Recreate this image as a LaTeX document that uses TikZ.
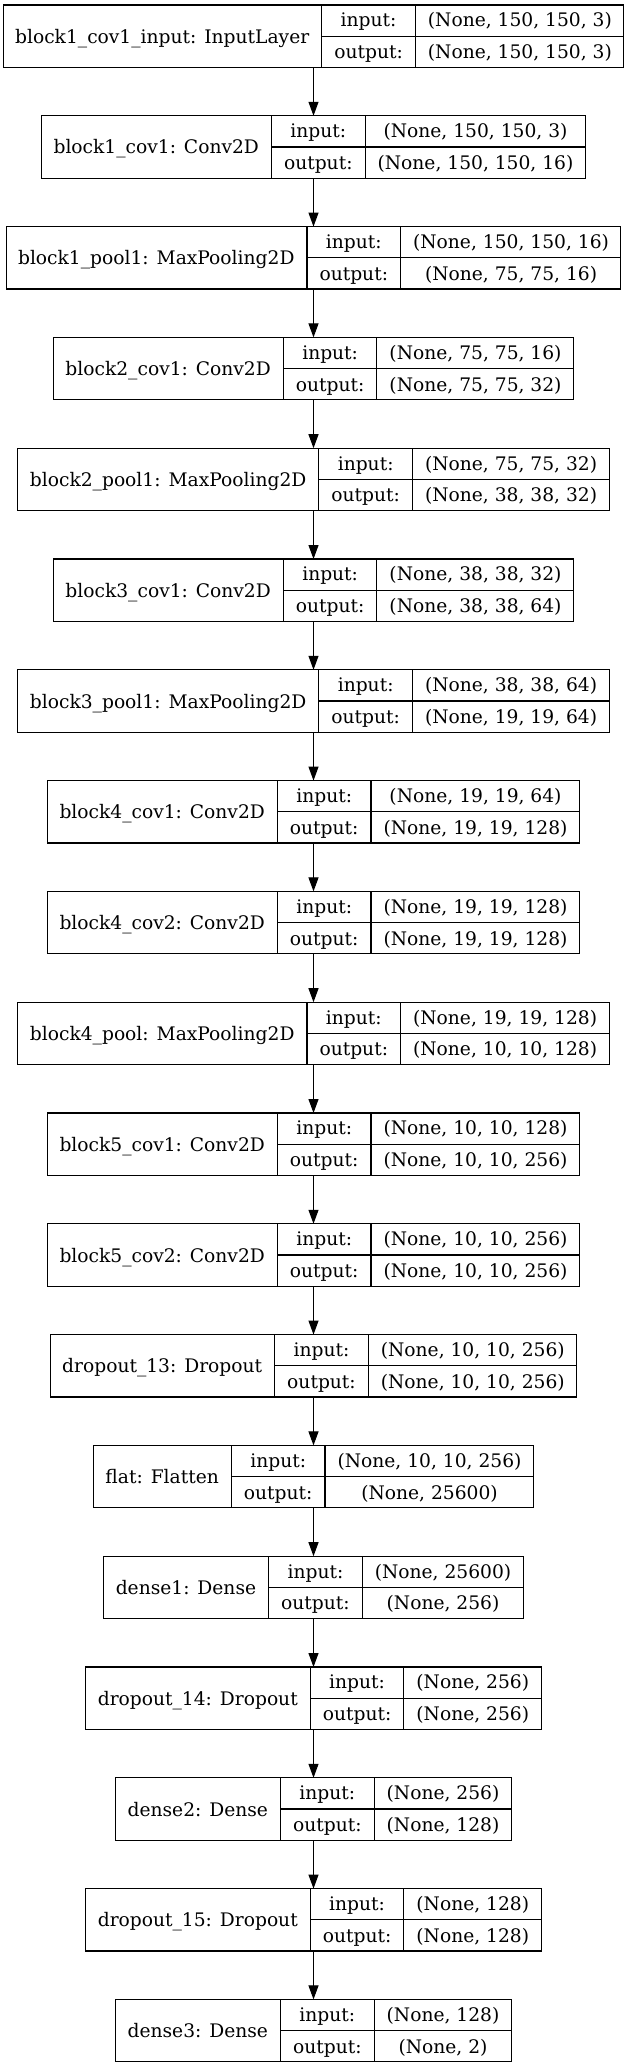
\documentclass[tikz,border=0pt]{standalone}
\usepackage{fontspec}
\setmainfont{DejaVu Serif}
\usepackage{array}
\usetikzlibrary{positioning, arrows.meta}

\setlength{\arrayrulewidth}{0.8pt}
\newcommand{\rowstrut}{\rule[-6.6pt]{0pt}{23pt}}
\newcommand{\labstrut}{\rule[-4.5pt]{0pt}{19.5pt}}
\newcommand{\layerrec}[3]{%
	\renewcommand{\arraystretch}{0}%
	\begin{tabular}{@{\hspace{9pt}}c@{\hspace{9pt}}|@{}c@{}}
		$\vcenter{\hbox{\labstrut #1}}$ &
		\begin{tabular}{@{\hspace{9pt}}>{\rowstrut}c@{\hspace{9pt}}|@{\hspace{9pt}}>{\rowstrut}c@{\hspace{9pt}}}
			input: & #2\\ \hline
			output: & #3
		\end{tabular}
	\end{tabular}}

\begin{document}
\begin{tikzpicture}[x=0.75pt, y=-0.75pt, node distance=36.3pt,
		layer/.style = {draw, line width=0.8pt, inner sep=0pt, outer sep=0pt, font=\fontsize{14pt}{17pt}\selectfont},
		flow/.style = {-{Triangle[length=10.5pt, width=7.5pt]}, line width=0.8pt}]
		
		\path [fill = white] (0,0) rectangle (628,2065);
		\useasboundingbox (0,0) rectangle (628,2065);
		
		\node [layer, anchor = north] (inlayer) at (313.5,5) {\layerrec{block1\_cov1\_input: InputLayer}{(None, 150, 150, 3)}{(None, 150, 150, 3)}};
		\node [layer, below = of inlayer] (conv11) {\layerrec{block1\_cov1: Conv2D}{(None, 150, 150, 3)}{(None, 150, 150, 16)}};
		\node [layer, below = of conv11] (pool1) {\layerrec{block1\_pool1: MaxPooling2D}{(None, 150, 150, 16)}{(None, 75, 75, 16)}};
		\node [layer, below = of pool1] (conv21) {\layerrec{block2\_cov1: Conv2D}{(None, 75, 75, 16)}{(None, 75, 75, 32)}};
		\node [layer, below = of conv21] (pool2) {\layerrec{block2\_pool1: MaxPooling2D}{(None, 75, 75, 32)}{(None, 38, 38, 32)}};
		\node [layer, below = of pool2] (conv31) {\layerrec{block3\_cov1: Conv2D}{(None, 38, 38, 32)}{(None, 38, 38, 64)}};
		\node [layer, below = of conv31] (pool3) {\layerrec{block3\_pool1: MaxPooling2D}{(None, 38, 38, 64)}{(None, 19, 19, 64)}};
		\node [layer, below = of pool3] (conv41) {\layerrec{block4\_cov1: Conv2D}{(None, 19, 19, 64)}{(None, 19, 19, 128)}};
		\node [layer, below = of conv41] (conv42) {\layerrec{block4\_cov2: Conv2D}{(None, 19, 19, 128)}{(None, 19, 19, 128)}};
		\node [layer, below = of conv42] (pool4) {\layerrec{block4\_pool: MaxPooling2D}{(None, 19, 19, 128)}{(None, 10, 10, 128)}};
		\node [layer, below = of pool4] (conv51) {\layerrec{block5\_cov1: Conv2D}{(None, 10, 10, 128)}{(None, 10, 10, 256)}};
		\node [layer, below = of conv51] (conv52) {\layerrec{block5\_cov2: Conv2D}{(None, 10, 10, 256)}{(None, 10, 10, 256)}};
		\node [layer, below = of conv52] (drop13) {\layerrec{dropout\_13: Dropout}{(None, 10, 10, 256)}{(None, 10, 10, 256)}};
		\node [layer, below = of drop13] (flat) {\layerrec{flat: Flatten}{(None, 10, 10, 256)}{(None, 25600)}};
		\node [layer, below = of flat] (dense1) {\layerrec{dense1: Dense}{(None, 25600)}{(None, 256)}};
		\node [layer, below = of dense1] (drop14) {\layerrec{dropout\_14: Dropout}{(None, 256)}{(None, 256)}};
		\node [layer, below = of drop14] (dense2) {\layerrec{dense2: Dense}{(None, 256)}{(None, 128)}};
		\node [layer, below = of dense2] (drop15) {\layerrec{dropout\_15: Dropout}{(None, 128)}{(None, 128)}};
		\node [layer, below = of drop15] (dense3) {\layerrec{dense3: Dense}{(None, 128)}{(None, 2)}};
		
		\draw [flow] (inlayer.south) -- (conv11.north);
		\draw [flow] (conv11.south) -- (pool1.north);
		\draw [flow] (pool1.south) -- (conv21.north);
		\draw [flow] (conv21.south) -- (pool2.north);
		\draw [flow] (pool2.south) -- (conv31.north);
		\draw [flow] (conv31.south) -- (pool3.north);
		\draw [flow] (pool3.south) -- (conv41.north);
		\draw [flow] (conv41.south) -- (conv42.north);
		\draw [flow] (conv42.south) -- (pool4.north);
		\draw [flow] (pool4.south) -- (conv51.north);
		\draw [flow] (conv51.south) -- (conv52.north);
		\draw [flow] (conv52.south) -- (drop13.north);
		\draw [flow] (drop13.south) -- (flat.north);
		\draw [flow] (flat.south) -- (dense1.north);
		\draw [flow] (dense1.south) -- (drop14.north);
		\draw [flow] (drop14.south) -- (dense2.north);
		\draw [flow] (dense2.south) -- (drop15.north);
		\draw [flow] (drop15.south) -- (dense3.north);
	\end{tikzpicture}
\end{document}
